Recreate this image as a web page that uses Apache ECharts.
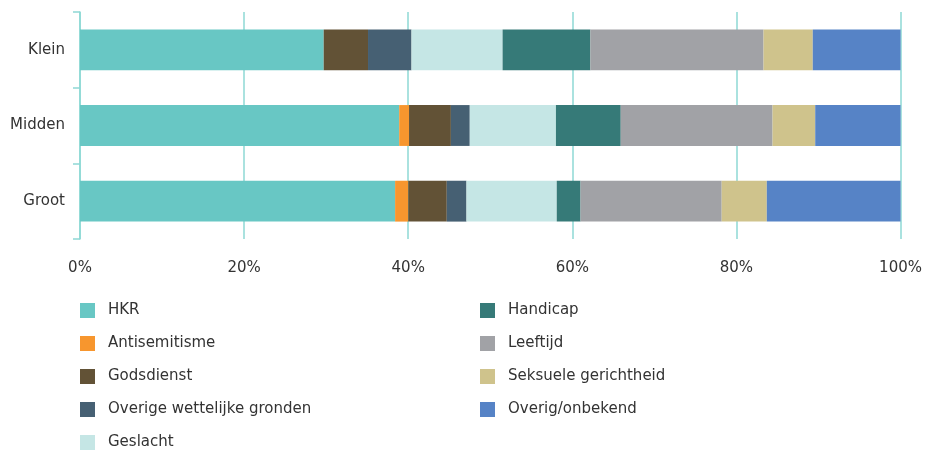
<!DOCTYPE html>
<html>
<head>
<meta charset="utf-8">
<script src="https://cdn.jsdelivr.net/npm/echarts@6/dist/echarts.min.js"></script>
<style>
  html, body { margin: 0; padding: 0; background: #fff; }
  #chart { width: 925px; height: 452px; }
</style>
</head>
<body>
<div id="chart"></div>
<script>
var categories = ['Klein', 'Midden', 'Groot'];
var xTicks = [0, 20, 40, 60, 80, 100];

var seriesNames = ['HKR', 'Antisemitisme', 'Godsdienst', 'Overige wettelijke gronden', 'Geslacht',
                   'Handicap', 'Leeftijd', 'Seksuele gerichtheid', 'Overig/onbekend'];
var hkr           = [29.7, 38.9, 38.4];
var antisemitisme = [0,    1.2,  1.6];
var godsdienst    = [5.4,  5.1,  4.7];
var overigeGronden= [5.3,  2.3,  2.4];
var geslacht      = [11.1, 10.5, 11.0];
var handicap      = [10.7, 7.9,  2.9];
var leeftijd      = [21.1, 18.5, 17.2];
var seksuele      = [6.0,  5.2,  5.5];
var overig        = [10.7, 10.4, 16.3];

var colors = ['#68c7c4', '#f7962e', '#625236', '#466073', '#c5e6e5',
              '#367a78', '#a1a2a6', '#cfc38c', '#5683c6'];
var values = [hkr, antisemitisme, godsdienst, overigeGronden, geslacht, handicap, leeftijd, seksuele, overig];

var myChart = echarts.init(document.getElementById('chart'));

var series = seriesNames.map(function (name, i) {
    return {
        name: name,
        type: 'bar',
        stack: 'total',
        barWidth: '54%',
        itemStyle: { color: colors[i] },
        emphasis: { disabled: true },
        data: values[i]
    };
});

var legendText = { color: '#333', fontSize: 15, fontFamily: 'DejaVu Sans', padding: [0, 0, 0, 8] };

function makeLegend(left, names) {
    return {
        orient: 'vertical',
        left: left,
        top: 303,
        height: 160,
        padding: 0,
        itemWidth: 15,
        itemHeight: 15,
        itemGap: 18,
        icon: 'rect',
        selectedMode: false,
        textStyle: legendText,
        data: names
    };
}

var option = {
    animation: false,
    textStyle: { fontFamily: 'DejaVu Sans' },
    grid: { left: 80, right: 24, top: 12, bottom: 213, containLabel: false },
    xAxis: {
        type: 'value',
        min: 0,
        max: 100,
        interval: 20,
        axisLine: { show: false },
        axisTick: { show: false },
        splitLine: { show: true, lineStyle: { color: '#8ed8d5', width: 1.5 } },
        axisLabel: {
            color: '#333',
            fontSize: 15,
            margin: 22,
            formatter: function (v) { return xTicks.indexOf(v) >= 0 ? v + '%' : ''; }
        }
    },
    yAxis: {
        type: 'category',
        data: categories,
        inverse: true,
        axisLine: { show: true, lineStyle: { color: '#8ed8d5', width: 1.5 } },
        axisTick: { show: true, length: 7, lineStyle: { color: '#8ed8d5', width: 1.5 } },
        axisLabel: { color: '#333', fontSize: 15, margin: 15 }
    },
    legend: [
        makeLegend(80, seriesNames.slice(0, 5)),
        makeLegend(480, seriesNames.slice(5))
    ],
    series: series
};

myChart.setOption(option);
</script>
</body>
</html>
